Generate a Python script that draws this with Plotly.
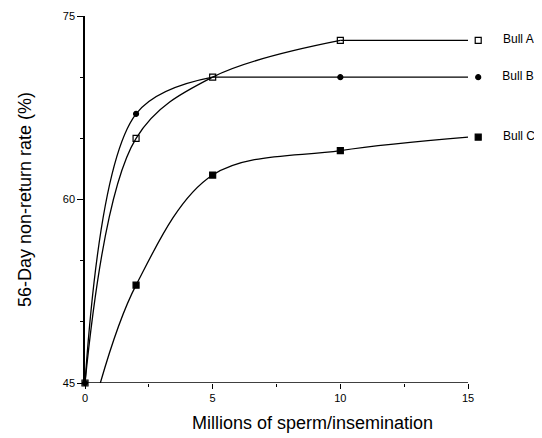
import plotly.graph_objects as go

# Data
dose = [0, 2, 5, 10, 15]
bull_a = [45, 65, 70, 73, 73]
bull_b = [45, 67, 70, 70, 70]
bull_c_dose = [0.6, 2, 5, 10, 15]
bull_c = [45, 53, 62, 64, 65.1]

x_ticks = [0, 5, 10, 15]
x_minor = [2.5, 7.5, 12.5]
y_ticks = [45, 60, 75]
series_names = ["Bull A", "Bull B", "Bull C"]

LINE = dict(color="black", width=1.3)
FONT = "Liberation Sans, Arial, sans-serif"

# page has an 8px body margin; plot area: 0..15 spans 383px
PX_PER_UNIT = 383 / 15
X_MAX = (532 - 77) / PX_PER_UNIT

fig = go.Figure()

def add_curve(xs, ys, spline_end, marker_idx, symbol, msize):
    fig.add_trace(go.Scatter(x=xs[:spline_end + 1], y=ys[:spline_end + 1], mode="lines",
                             line=dict(shape="spline", smoothing=1.0, **LINE),
                             showlegend=False, cliponaxis=False, hoverinfo="skip"))
    if spline_end < len(xs) - 1:
        fig.add_trace(go.Scatter(x=xs[spline_end:], y=ys[spline_end:], mode="lines",
                                 line=LINE, showlegend=False, cliponaxis=False, hoverinfo="skip"))
    fig.add_trace(go.Scatter(x=[xs[i] for i in marker_idx], y=[ys[i] for i in marker_idx],
                             mode="markers",
                             marker=dict(symbol=symbol, size=msize, color="black",
                                         line=dict(color="black", width=1.2)),
                             showlegend=False, cliponaxis=False))

add_curve(dose, bull_a, 3, [0, 1, 2, 3], "square-open", 6)
add_curve(dose, bull_b, 2, [0, 1, 3], "circle", 5)
add_curve(bull_c_dose, bull_c, 4, [1, 2, 3], "square", 6)

# Direct labels at the end of each curve
label_x = 15.4
for name, ys, sym, sz in [(series_names[0], bull_a, "square-open", 6),
                          (series_names[1], bull_b, "circle", 5),
                          (series_names[2], bull_c, "square", 6)]:
    fig.add_trace(go.Scatter(x=[label_x], y=[ys[-1]], mode="markers+text",
                             text=["      " + name], textposition="middle right",
                             textfont=dict(family=FONT, size=12, color="black"),
                             marker=dict(symbol=sym, size=sz, color="black",
                                         line=dict(color="black", width=1.2)),
                             showlegend=False, cliponaxis=False))

# x axis line only spans the 0..15 scale
fig.add_shape(type="line", xref="x", yref="y", x0=x_ticks[0], x1=x_ticks[-1],
              y0=y_ticks[0], y1=y_ticks[0], line=dict(color="black", width=1.5))

tickfont = dict(family=FONT, size=11, color="black")
fig.update_layout(
    width=534, height=430,
    margin=dict(l=77, r=2, t=8, b=55),
    paper_bgcolor="white", plot_bgcolor="white",
    xaxis=dict(range=[0, X_MAX], tickvals=x_ticks, showline=False, showgrid=False,
               zeroline=False, ticks="outside", ticklen=5, tickwidth=1.2, tickcolor="black",
               tickfont=tickfont,
               minor=dict(tickvals=x_minor, ticks="outside", ticklen=3, tickcolor="black"),
               title=dict(text="Millions of sperm/insemination",
                          font=dict(family=FONT, size=18, color="black"), standoff=13)),
    yaxis=dict(range=[45, 75], tickvals=y_ticks, showline=True, linecolor="black",
               linewidth=1.5, showgrid=False, zeroline=False, ticks="outside", ticklen=6,
               tickwidth=1.2, tickcolor="black", tickfont=tickfont,
               minor=dict(dtick=5, tick0=45, ticks="outside", ticklen=3, tickcolor="black"),
               title=dict(text="56-Day non-return rate (%)",
                          font=dict(family=FONT, size=18, color="black"), standoff=26)),
)

fig.write_html("out.html")
